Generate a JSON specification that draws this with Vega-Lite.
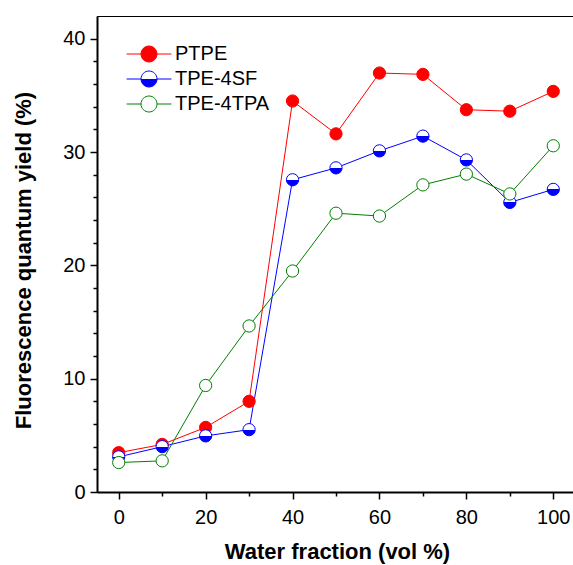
{
  "$schema": "https://vega.github.io/schema/vega-lite/v6.json",
  "autosize": "none",
  "padding": {"left": 97, "top": 16, "right": 0, "bottom": 73},
  "width": 478,
  "height": 476,
  "background": "white",
  "config": {
    "view": {"stroke": "#000000", "strokeWidth": 1},
    "font": "Liberation Sans",
    "axis": {
      "grid": false,
      "domainColor": "#000000",
      "domainWidth": 2,
      "tickColor": "#000000",
      "tickWidth": 1.5,
      "labelColor": "#000000",
      "labelFont": "Liberation Sans",
      "labelFontSize": 20,
      "titleFont": "Liberation Sans",
      "titleFontSize": 22,
      "titleFontWeight": "bold",
      "titleColor": "#000000"
    },
    "legend": {
      "labelFont": "Liberation Sans",
      "labelFontSize": 20,
      "labelColor": "#000000",
      "padding": 0
    }
  },
  "data": {
    "values": [
      {"series": "PTPE", "water": 0, "qy": 3.47},
      {"series": "PTPE", "water": 10, "qy": 4.2},
      {"series": "PTPE", "water": 20, "qy": 5.7},
      {"series": "PTPE", "water": 30, "qy": 8.0},
      {"series": "PTPE", "water": 40, "qy": 34.5},
      {"series": "PTPE", "water": 50, "qy": 31.6},
      {"series": "PTPE", "water": 60, "qy": 36.97},
      {"series": "PTPE", "water": 70, "qy": 36.85},
      {"series": "PTPE", "water": 80, "qy": 33.73},
      {"series": "PTPE", "water": 90, "qy": 33.6},
      {"series": "PTPE", "water": 100, "qy": 35.35},
      {"series": "TPE-4SF", "water": 0, "qy": 3.1},
      {"series": "TPE-4SF", "water": 10, "qy": 4.0},
      {"series": "TPE-4SF", "water": 20, "qy": 4.95},
      {"series": "TPE-4SF", "water": 30, "qy": 5.5},
      {"series": "TPE-4SF", "water": 40, "qy": 27.55},
      {"series": "TPE-4SF", "water": 50, "qy": 28.6},
      {"series": "TPE-4SF", "water": 60, "qy": 30.1},
      {"series": "TPE-4SF", "water": 70, "qy": 31.4},
      {"series": "TPE-4SF", "water": 80, "qy": 29.3},
      {"series": "TPE-4SF", "water": 90, "qy": 25.55},
      {"series": "TPE-4SF", "water": 100, "qy": 26.7},
      {"series": "TPE-4TPA", "water": 0, "qy": 2.6},
      {"series": "TPE-4TPA", "water": 10, "qy": 2.75},
      {"series": "TPE-4TPA", "water": 20, "qy": 9.4},
      {"series": "TPE-4TPA", "water": 30, "qy": 14.65},
      {"series": "TPE-4TPA", "water": 40, "qy": 19.5},
      {"series": "TPE-4TPA", "water": 50, "qy": 24.6},
      {"series": "TPE-4TPA", "water": 60, "qy": 24.35},
      {"series": "TPE-4TPA", "water": 70, "qy": 27.1},
      {"series": "TPE-4TPA", "water": 80, "qy": 28.05},
      {"series": "TPE-4TPA", "water": 90, "qy": 26.3},
      {"series": "TPE-4TPA", "water": 100, "qy": 30.55}
    ]
  },
  "layer": [
    {
      "mark": {"type": "line", "strokeWidth": 1},
      "encoding": {
        "x": {
          "field": "water", "type": "quantitative",
          "scale": {"domain": [-5, 105], "nice": false, "zero": false},
          "axis": {
            "orient": "bottom",
            "values": [0, 20, 40, 60, 80, 100],
            "tickSize": 7,
            "labelPadding": 8,
            "title": "Water fraction (vol %)",
            "titleX": 240,
            "titleY": 66,
            "titleBaseline": "alphabetic"
          }
        },
        "y": {
          "field": "qy", "type": "quantitative",
          "scale": {"domain": [0, 42], "nice": false, "zero": true},
          "axis": {
            "orient": "left",
            "values": [0, 10, 20, 30, 40],
            "tickSize": 7,
            "labelPadding": 5,
            "title": "Fluorescence quantum yield (%)",
            "titleX": -67,
            "titleY": 244,
            "titleAngle": -90,
            "titleBaseline": "alphabetic",
            "titleAlign": "center"
          }
        },
        "stroke": {
          "field": "series", "type": "nominal",
          "scale": {"domain": ["PTPE", "TPE-4SF", "TPE-4TPA"], "range": ["#FF0000", "#0000FF", "#008000"]},
          "legend": {
            "title": null,
            "orient": "none",
            "legendX": 42,
            "legendY": 28,
            "symbolType": "M-2.8,0L-1,0M1,0L2.8,0M-1,0A1,1 0 1,0 1,0A1,1 0 1,0 -1,0Z",
            "symbolSize": 256,
            "symbolStrokeWidth": 1,
            "labelOffset": 16,
            "rowPadding": 5,
            "encode": {
              "symbols": {
                "update": {
                  "fill": [
                    {"test": "datum.value === 'TPE-4SF'",
                     "value": {"gradient": "linear", "x1": 0.5, "y1": 0, "x2": 0.5, "y2": 1,
                       "stops": [
                         {"offset": 0, "color": "#FFFFFF"},
                         {"offset": 0.5, "color": "#FFFFFF"},
                         {"offset": 0.5, "color": "#0000FF"},
                         {"offset": 1, "color": "#0000FF"}
                       ]}},
                    {"test": "datum.value === 'PTPE'", "value": "#FF0000"},
                    {"value": "#FFFFFF"}
                  ]
                }
              }
            }
          }
        }
      }
    },
    {
      "transform": [{"filter": "datum.series === 'PTPE'"}],
      "mark": {"type": "point", "shape": "circle", "filled": true, "size": 150, "strokeWidth": 1, "opacity": 1, "stroke": "#FF0000", "fill": "#FF0000"},
      "encoding": {
        "x": {
          "field": "water", "type": "quantitative",
          "scale": {"domain": [-5, 105], "nice": false, "zero": false},
          "axis": {
            "orient": "bottom",
            "values": [10, 30, 50, 70, 90],
            "tickSize": 4,
            "labels": false,
            "domain": false,
            "title": null
          }
        },
        "y": {
          "field": "qy", "type": "quantitative",
          "scale": {"domain": [0, 42], "nice": false, "zero": true},
          "axis": {
            "orient": "left",
            "values": [2, 4, 6, 8, 12, 14, 16, 18, 22, 24, 26, 28, 32, 34, 36, 38],
            "tickSize": 4,
            "labels": false,
            "domain": false,
            "title": null
          }
        }
      }
    },
    {
      "transform": [{"filter": "datum.series === 'TPE-4SF'"}],
      "mark": {
        "type": "point", "shape": "circle", "filled": true, "size": 150, "strokeWidth": 1, "opacity": 1,
        "stroke": "#0000FF",
        "fill": {"gradient": "linear", "x1": 0.5, "y1": 0, "x2": 0.5, "y2": 1,
          "stops": [
            {"offset": 0, "color": "#FFFFFF"},
            {"offset": 0.5, "color": "#FFFFFF"},
            {"offset": 0.5, "color": "#0000FF"},
            {"offset": 1, "color": "#0000FF"}
          ]}
      },
      "encoding": {
        "x": {"field": "water", "type": "quantitative", "scale": {"domain": [-5, 105], "nice": false, "zero": false}, "axis": null},
        "y": {"field": "qy", "type": "quantitative", "scale": {"domain": [0, 42], "nice": false, "zero": true}, "axis": null}
      }
    },
    {
      "transform": [{"filter": "datum.series === 'TPE-4TPA'"}],
      "mark": {"type": "point", "shape": "circle", "filled": true, "size": 150, "strokeWidth": 1, "opacity": 1, "stroke": "#008000", "fill": "#FFFFFF"},
      "encoding": {
        "x": {"field": "water", "type": "quantitative", "scale": {"domain": [-5, 105], "nice": false, "zero": false}, "axis": null},
        "y": {"field": "qy", "type": "quantitative", "scale": {"domain": [0, 42], "nice": false, "zero": true}, "axis": null}
      }
    }
  ],
  "resolve": {"axis": {"x": "independent", "y": "independent"}}
}
